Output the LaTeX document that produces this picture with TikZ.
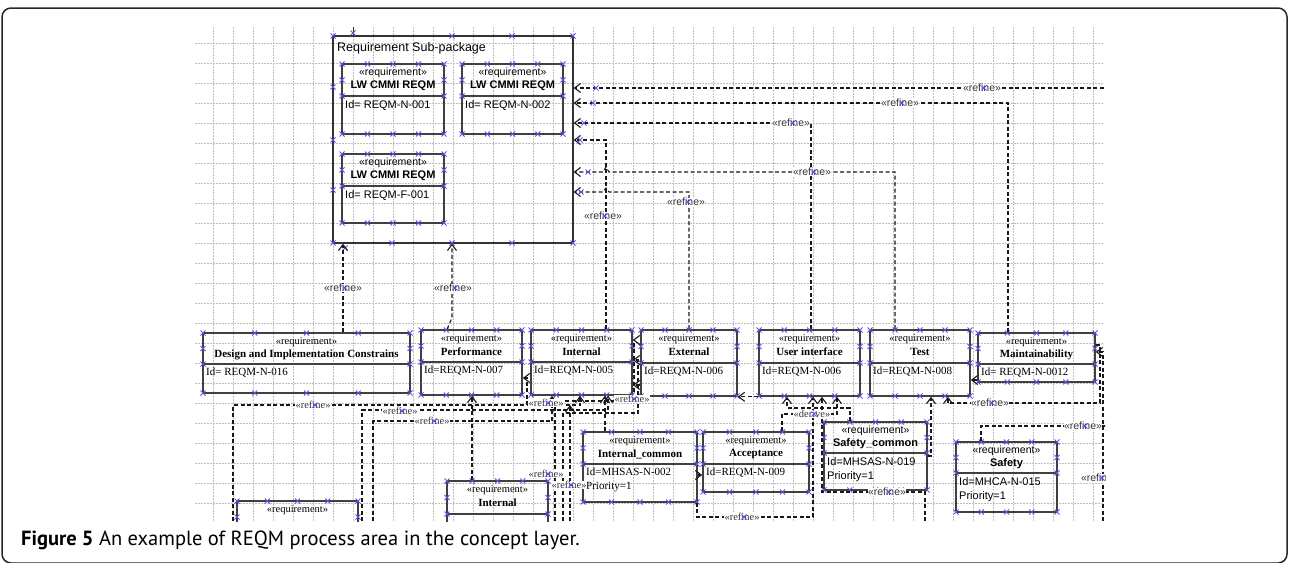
\documentclass[tikz,border=0pt]{standalone}
\usepackage{fontspec}
\setmainfont{Liberation Serif}
\setsansfont{Liberation Sans}
\newfontfamily\capfont{PT Sans}
\usetikzlibrary{arrows.meta,fit}

\definecolor{gridgray}{RGB}{190,190,190}
\definecolor{hblue}{RGB}{85,85,230}

% blue selection handle
\newcommand\hx[2]{\draw[hdl] ({#1-2.5},{#2-2.5}) -- ({#1+2.5},{#2+2.5}) ({#1-2.5},{#2+2.5}) -- ({#1+2.5},{#2-2.5});}

% requirement box: name, x1, y1, x2, y2, divider, family, title, body
\newcommand\reqbox[9]{%
  \node[reqline, fit={(#2,#3) (#4,#5)}] (#1) {};
  \draw[reqline] (#2,#6) -- (#4,#6);
  \node[font=#7\fontsize{10.5}{12}\selectfont] (#1-s) at ({(#2+#4)/2},{#3+9}) {«requirement»};
  \node[font=#7\bfseries\fontsize{11}{12}\selectfont] (#1-t) at ({(#2+#4)/2},{#3+22}) {#8};
  \node[font=#7\fontsize{11}{14}\selectfont, anchor=north west, align=left, inner sep=1pt] (#1-i) at ({#2+2},{#6+3}) {#9};
  \foreach \hxx in {#2,#4} {\hx{\hxx}{#3}\hx{\hxx}{#6}\hx{\hxx}{#5}\hx{\hxx}{(#3+#6)/2}}
  \foreach \t in {0.25,0.5,0.75} {\hx{#2+\t*(#4-#2)}{#3}\hx{#2+\t*(#4-#2)}{#5}}
}

% refine label with its handle
\newcommand\rlab[4]{\node[#1] (#2) at (#3,#4) {«refine»}; \hx{#3+2}{#4}}

\begin{document}
\begin{tikzpicture}[x=1pt,y=-1pt,
  gridline/.style={draw=gridgray,line width=0.5pt,dash pattern=on 1.5pt off 1.5pt},
  reqline/.style={draw=black!75,line width=1.6pt,inner sep=0pt},
  hdl/.style={draw=hblue,line width=0.8pt},
  refine/.style={draw=black!90,line width=1.1pt,dash pattern=on 4pt off 2.5pt,-{Straight Barb[length=6pt,width=9pt]}},
  lblsf/.style={font=\sffamily\fontsize{10.5}{12}\selectfont,fill=white,inner sep=0.5pt,text=black!80},
  lblrm/.style={font=\rmfamily\fontsize{10.5}{12}\selectfont,fill=white,inner sep=0.5pt,text=black!80}]
\useasboundingbox (0,0) rectangle (1289,562);

% outer frame
\draw[black!85,line width=1.5pt,rounded corners=9pt] (2,8) rectangle (1287,563);

\begin{scope}
\clip (193,25) rectangle (1105,521);
\foreach \gx in {213,233,...,1093} \draw[gridline] (\gx,27) -- (\gx,521);
\foreach \gy in {43,63,...,503} \draw[gridline] (195,\gy) -- (1103,\gy);

% package
\node[draw=black!80,line width=1.3pt,inner sep=0pt,fit={(333,36) (573,243)}] (pkg) {};
\node[font=\sffamily\fontsize{12.5}{14}\selectfont,anchor=west,inner sep=0pt] (pkgname) at (337,48) {Requirement Sub-package};
\draw[black!80,line width=0.8pt] (353,27) -- (353,0 |- pkg.north);
\foreach \px in {333,452,512,573} {\hx{\px}{36}\hx{\px}{243}}
\hx{353}{33}\hx{333}{87}\hx{333}{140}\hx{333}{190}\hx{345}{248}\hx{392}{243}

\reqbox{reqa}{342}{64}{444}{134}{96}{\sffamily}{LW CMMI REQM}{Id= REQM-N-001}
\reqbox{reqb}{462}{64}{563}{134}{96}{\sffamily}{LW CMMI REQM}{Id= REQM-N-002}
\reqbox{reqc}{342}{154}{444}{223}{186}{\sffamily}{LW CMMI REQM}{Id= REQM-F-001}

\reqbox{design}{203}{333}{410}{393}{364}{\rmfamily}{Design and Implementation Constrains}{Id= REQM-N-016}
\reqbox{perf}{421}{330}{522}{395}{362}{\rmfamily}{Performance}{Id=REQM-N-007}
\reqbox{int}{531}{330}{632}{395}{362}{\rmfamily}{Internal}{Id=REQM-N-005}
\reqbox{ext}{641}{330}{737}{396}{363}{\rmfamily}{External}{Id=REQM-N-006}
\reqbox{ui}{759}{330}{860}{396}{363}{\rmfamily}{User interface}{Id=REQM-N-006}
\reqbox{test}{870}{330}{970}{396}{363}{\rmfamily}{Test}{Id=REQM-N-008}
\reqbox{maint}{978}{333}{1095}{382}{364}{\rmfamily}{Maintainability}{Id= REQM-N-0012}

\reqbox{intcom}{583}{432}{697}{502}{464}{\rmfamily}{Internal\_common}{Id=MHSAS-N-002\\Priority=1}
\reqbox{accept}{703}{432}{809}{492}{464}{\rmfamily}{Acceptance}{Id=REQM-N-009}
\reqbox{safecom}{824}{422}{927}{490}{453}{\sffamily}{Safety\_common}{Id=MHSAS-N-019\\Priority=1}
\reqbox{safety}{956}{442}{1057}{512}{473}{\sffamily}{Safety}{Id=MHCA-N-015\\Priority=1}
\reqbox{lowint}{447}{481}{548}{547}{514}{\rmfamily}{Internal}{}
\reqbox{lowleft}{237}{501}{358}{566}{533}{\rmfamily}{}{}

% refine to the package
\draw[refine] (1110,88) -- (pkg.east |- 0,88);
\draw[refine] (1008,0 |- maint.north) |- (pkg.east |- 0,103);
\draw[refine] (811,0 |- ui.north) |- (pkg.east |- 0,123);
\draw[refine] (606,0 |- int.north) |- (pkg.east |- 0,140);
\draw[refine] (895,0 |- test.north) -- (895,172) -- (609,172) -- (606,167) -- (603,172) -- (pkg.east |- 0,172);
\draw[refine] (689,0 |- ext.north) -- (689,192) -- (609,192) -- (606,188) -- (603,192) -- (pkg.east |- 0,192);
\draw[refine] (343,0 |- design.north) -- (343,0 |- pkg.south);
\draw[refine] (447,0 |- perf.north) -- (452,318) -- (452,0 |- pkg.south);
\hx{596}{88}\hx{593}{103}\hx{584}{123}\hx{580}{140}\hx{588}{172}\hx{581}{192}

% middle row
\draw[refine] (527,405) -- (527,378) -- (perf.east |- 0,378);
\draw[refine] (555,521) -- (555,401) -- (634,401) -- (634,340) -- (int.east |- 0,340);
\draw[refine] (563,521) -- (563,413) -- (638,413) -- (638,360) -- (int.east |- 0,360);
\draw[refine] (ext.west |- 0,385) -- (int.east |- 0,385);
\draw[refine] (ui.south west) -- (ext.south east);
\draw[refine] (maint.west |- 0,380) -- (test.east |- 0,380);
\draw[refine] (maint.east |- 0,345) -| (1100,403) -- (948,403) -- (948,0 |- test.south);
\draw[refine] (1103,521) |- (maint.east |- 0,352);

% lower left
\draw[refine] (233,521) |- (580,405) -- (580,0 |- int.south);
\draw[refine] (362,521) |- (608,410) -- (608,0 |- int.south);
\draw[refine] (373,521) |- (552,421) -- (552,0 |- int.south);
\draw[refine] (472,0 |- lowint.north) -- (472,0 |- perf.south);
\draw[refine] (605,0 |- intcom.north) -- (605,0 |- int.south);
\draw[refine] (570,521) -- (570,405);

% lower right
\draw[refine] (intcom.east |- 0,475) -- (accept.west |- 0,475);
\draw[refine] (697,0 |- intcom.south) -- (697,517) -| (813,0 |- ui.south);
\draw[refine] (782,0 |- accept.north) |- (837,414) -- (837,0 |- ui.south);
\draw[refine] (850,0 |- safecom.north) |- (787,408) -- (787,0 |- ui.south);
\draw[refine] (925,521) |- (822,492) -- (822,0 |- ui.south);
\draw[refine] (safecom.east) -| (931,0 |- test.south);
\draw[refine] (981,0 |- safety.north) |- (1112,426);

% labels
\rlab{lblsf}{r1}{982}{88}
\rlab{lblsf}{r2}{900}{103}
\rlab{lblsf}{r3}{791}{123}
\rlab{lblsf}{r4}{603}{216}
\rlab{lblsf}{r5}{812}{172}
\rlab{lblsf}{r6}{686}{202}
\rlab{lblsf}{r7}{343}{288}
\rlab{lblsf}{r8}{453}{288}
\rlab{lblsf}{r9}{990}{403}
\rlab{lblrm}{r10}{313}{405}
\rlab{lblrm}{r11}{400}{411}
\rlab{lblrm}{r12}{432}{421}
\rlab{lblrm}{r13}{546}{403}
\rlab{lblrm}{r14}{632}{399}
\rlab{lblrm}{r15}{546}{474}
\rlab{lblrm}{r16}{569}{485}
\rlab{lblrm}{r17}{742}{517}
\node[lblrm] (d1) at (812,414) {«derive»}; \hx{814}{414}
\rlab{lblsf}{r18}{887}{492}
\rlab{lblsf}{r19}{1083}{426}
\rlab{lblsf}{r20}{1100}{478}
\end{scope}

% caption
\node[anchor=base west,font=\capfont\fontsize{20.5}{24}\selectfont,inner sep=0pt] (cap) at (21,545) {\textbf{Figure 5} An example of REQM process area in the concept layer.};
\end{tikzpicture}
\end{document}
